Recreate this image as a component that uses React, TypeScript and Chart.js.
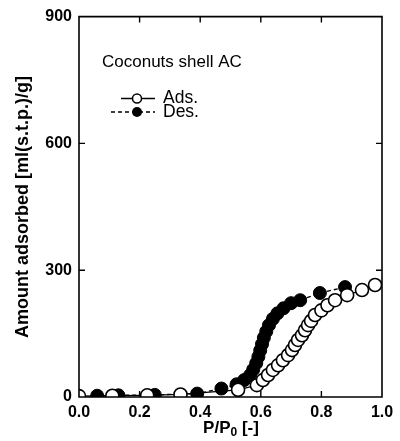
import React, { useEffect, useRef } from "react";
import { Chart, registerables } from "chart.js";

Chart.register(...registerables);

const adsX = [0.0, 0.11, 0.225, 0.335, 0.525, 0.587, 0.607, 0.624, 0.64, 0.657, 0.673, 0.69, 0.703, 0.713, 0.723, 0.736, 0.746, 0.756, 0.766, 0.779, 0.8, 0.82, 0.845, 0.885, 0.934, 0.977];
const adsY = [2, 3, 4, 6, 17, 28, 40, 52, 64, 75, 87, 99, 111, 123, 135, 146, 158, 170, 180, 194, 205, 217, 229, 241, 253, 265];

const desX = [0.06, 0.13, 0.25, 0.39, 0.47, 0.52, 0.545, 0.565, 0.575, 0.585, 0.592, 0.598, 0.604, 0.61, 0.618, 0.627, 0.64, 0.655, 0.675, 0.7, 0.73, 0.795, 0.878];
const desY = [3, 4, 5, 8, 20, 30, 40, 52, 65, 80, 95, 110, 125, 140, 155, 170, 185, 198, 210, 222, 229, 246, 260];

const xTicks = [0, 0.2, 0.4, 0.6, 0.8, 1.0];
const yTicks = [0, 300, 600, 900];
const innerXTicks = [0.2, 0.4, 0.6, 0.8];
const innerYTicks = [300, 600];

const titleText = "Coconuts shell AC";
const adsLabel = "Ads.";
const desLabel = "Des.";
const yTitle = "Amount adsorbed [ml(s.t.p.)/g]";

const FONT = "'Liberation Sans', Arial, Helvetica, sans-serif";

const decorPlugin = {
  id: "decor",
  afterDraw(chart: any) {
    const { ctx, chartArea } = chart;
    const xs = chart.scales.x;
    const ys = chart.scales.y;
    const { left, right, top, bottom } = chartArea;
    ctx.save();
    ctx.strokeStyle = "#000";
    ctx.lineWidth = 1.6;
    ctx.beginPath();
    ctx.rect(left, top, right - left, bottom - top);
    ctx.stroke();
    ctx.lineWidth = 1.4;
    const tl = 6;
    innerXTicks.forEach((v) => {
      const px = xs.getPixelForValue(v);
      ctx.beginPath();
      ctx.moveTo(px, top);
      ctx.lineTo(px, top + tl);
      ctx.moveTo(px, bottom);
      ctx.lineTo(px, bottom - tl);
      ctx.stroke();
    });
    innerYTicks.forEach((v) => {
      const py = ys.getPixelForValue(v);
      ctx.beginPath();
      ctx.moveTo(left, py);
      ctx.lineTo(left + tl, py);
      ctx.moveTo(right, py);
      ctx.lineTo(right - tl, py);
      ctx.stroke();
    });

    // annotation title
    ctx.fillStyle = "#000";
    ctx.textBaseline = "middle";
    ctx.textAlign = "left";
    ctx.font = `17px ${FONT}`;
    ctx.fillText(titleText, 102, 62);

    // legend
    ctx.font = `17.5px ${FONT}`;
    ctx.fillText(adsLabel, 163, 98.5);
    ctx.fillText(desLabel, 163, 112.5);
    ctx.lineWidth = 1.5;
    ctx.beginPath();
    ctx.moveTo(121, 98.5);
    ctx.lineTo(155, 98.5);
    ctx.stroke();
    ctx.beginPath();
    ctx.arc(137, 98.5, 4.5, 0, Math.PI * 2);
    ctx.fillStyle = "#fff";
    ctx.fill();
    ctx.stroke();
    ctx.setLineDash([4, 3]);
    ctx.beginPath();
    ctx.moveTo(111, 112);
    ctx.lineTo(155, 112);
    ctx.stroke();
    ctx.setLineDash([]);
    ctx.beginPath();
    ctx.arc(137, 112, 5, 0, Math.PI * 2);
    ctx.fillStyle = "#000";
    ctx.fill();

    // x title with subscript
    ctx.fillStyle = "#000";
    ctx.textBaseline = "alphabetic";
    const p1 = "P/P";
    const p3 = " [-]";
    ctx.font = `bold 17px ${FONT}`;
    const w1 = ctx.measureText(p1).width;
    const w3 = ctx.measureText(p3).width;
    ctx.font = `bold 12px ${FONT}`;
    const w2 = ctx.measureText("0").width;
    const total = w1 + w2 + w3;
    const x0 = 231 - total / 2;
    const base = 433;
    ctx.font = `bold 17px ${FONT}`;
    ctx.fillText(p1, x0, base);
    ctx.font = `bold 12px ${FONT}`;
    ctx.fillText("0", x0 + w1, base + 3);
    ctx.font = `bold 17px ${FONT}`;
    ctx.fillText(p3, x0 + w1 + w2, base);

    // y title
    ctx.save();
    ctx.translate(23, 207);
    ctx.rotate(-Math.PI / 2);
    ctx.textAlign = "center";
    ctx.textBaseline = "middle";
    ctx.font = `bold 18px ${FONT}`;
    ctx.fillText(yTitle, 0, 0);
    ctx.restore();
    ctx.restore();
  },
};

export default function App() {
  const ref = useRef<HTMLCanvasElement | null>(null);
  useEffect(() => {
    if (!ref.current) return;
    const chart = new Chart(ref.current, {
      type: "scatter",
      data: {
        datasets: [
          {
            label: adsLabel,
            data: adsX.map((x, i) => ({ x, y: adsY[i] })),
            showLine: true,
            borderColor: "#000",
            borderWidth: 1.3,
            pointBackgroundColor: "#fff",
            pointBorderColor: "#000",
            pointBorderWidth: 1.6,
            pointRadius: 6.5,
            order: 0,
          },
          {
            label: desLabel,
            data: desX.map((x, i) => ({ x, y: desY[i] })),
            showLine: true,
            borderColor: "#000",
            borderWidth: 1.3,
            borderDash: [4, 3],
            pointBackgroundColor: "#000",
            pointBorderColor: "#000",
            pointBorderWidth: 1,
            pointRadius: 6.5,
            order: 1,
          },
        ],
      },
      options: {
        responsive: false,
        animation: false,
        layout: { padding: { left: 0, top: 16, right: 18, bottom: 0 } },
        plugins: { legend: { display: false }, tooltip: { enabled: false } },
        scales: {
          x: {
            type: "linear",
            min: 0,
            max: 1,
            afterBuildTicks: (s: any) => {
              s.ticks = xTicks.map((v) => ({ value: v }));
            },
            afterFit: (s: any) => {
              s.height = 44;
            },
            grid: { display: false, drawTicks: false },
            border: { display: false },
            ticks: {
              color: "#000",
              padding: 6,
              font: { family: FONT, size: 16, weight: "bold" },
              callback: (v: any) => Number(v).toFixed(1),
            },
          },
          y: {
            type: "linear",
            min: 0,
            max: 900,
            afterBuildTicks: (s: any) => {
              s.ticks = yTicks.map((v) => ({ value: v }));
            },
            afterFit: (s: any) => {
              s.width = 79;
            },
            grid: { display: false, drawTicks: false },
            border: { display: false },
            ticks: {
              color: "#000",
              padding: 7,
              font: { family: FONT, size: 16, weight: "bold" },
              callback: (v: any) => String(v),
            },
          },
        },
      },
      plugins: [decorPlugin],
    } as any);
    return () => chart.destroy();
  }, []);
  return (
    <div style={{ position: "absolute", left: 0, top: 0, width: 400, height: 441, background: "#fff" }}>
      <canvas ref={ref} width={400} height={441} />
    </div>
  );
}
